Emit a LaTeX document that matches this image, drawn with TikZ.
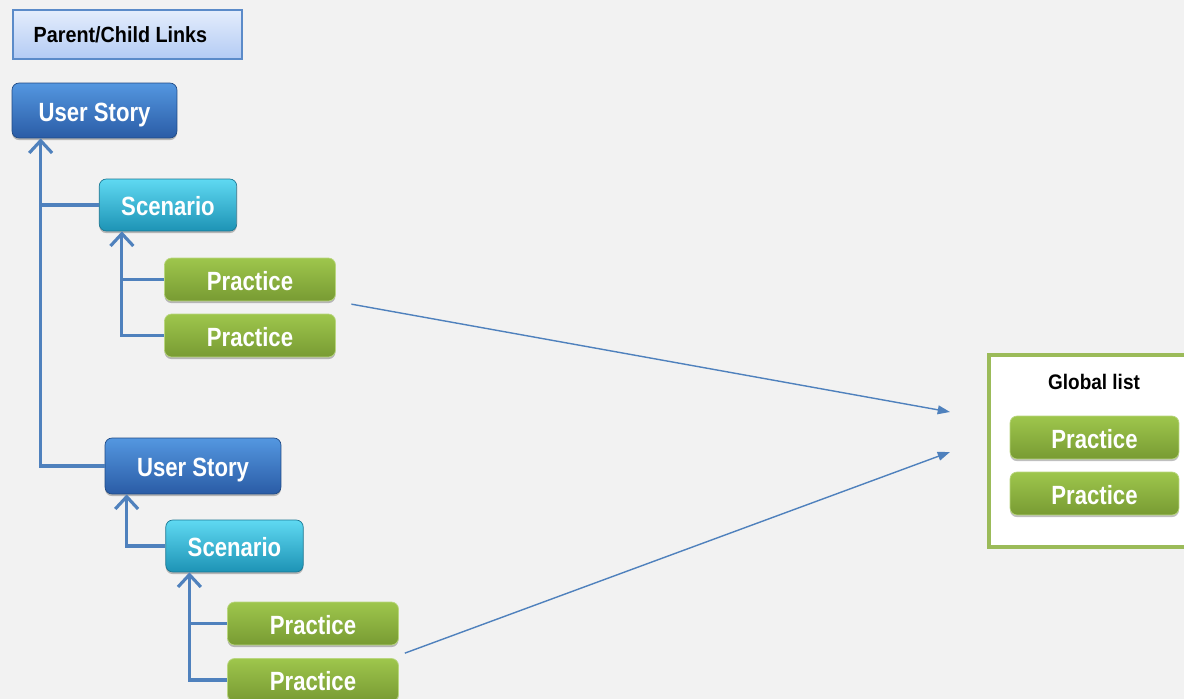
\documentclass[tikz,border=0pt]{standalone}
\usepackage{fontspec}
\setmainfont{Liberation Sans}[FakeStretch=0.84]
\newfontfamily\titlefont{Liberation Sans}[FakeStretch=0.9]
\usetikzlibrary{arrows.meta, calc, positioning, shadows}

\definecolor{bgGray}{HTML}{F2F2F2}
\definecolor{linkBlue}{HTML}{4F81BD}
\definecolor{titleTop}{HTML}{E4EDFC}
\definecolor{titleBot}{HTML}{B3CBF4}
\definecolor{titleLine}{HTML}{5B8BC9}
\definecolor{storyTop}{HTML}{5497E0}
\definecolor{storyBot}{HTML}{2A5CA6}
\definecolor{storyLine}{HTML}{1F4A85}
\definecolor{sceneTop}{HTML}{5FD9F2}
\definecolor{sceneBot}{HTML}{1D93B5}
\definecolor{sceneLine}{HTML}{1A7894}
\definecolor{pracTop}{HTML}{9EC64C}
\definecolor{pracBot}{HTML}{789B33}
\definecolor{pracLine}{HTML}{B9D67F}
\definecolor{listLine}{HTML}{9BBB59}

\begin{document}
\begin{tikzpicture}[x=0.02cm, y=-0.02cm,
  box/.style={rounded corners=4pt, text=white, inner sep=0pt,
    font=\bfseries\fontsize{15}{17}\selectfont, text height=12.5pt, text depth=0pt,
    general shadow={fill=black, opacity=0.25, shadow yshift=-1.2pt}},
  story/.style={box, top color=storyTop, bottom color=storyBot, draw=storyLine,
    minimum width=3.3cm, minimum height=1.1cm},
  scene/.style={box, top color=sceneTop, bottom color=sceneBot, draw=sceneLine,
    minimum width=2.75cm, minimum height=1.04cm},
  practice/.style={box, top color=pracTop, bottom color=pracBot, draw=pracLine,
    minimum width=3.42cm, minimum height=0.86cm},
  link/.style={draw=linkBlue, line width=1.8pt, -{Straight Barb[length=7pt,width=13pt]}},
  jump/.style={draw=linkBlue, line width=0.8pt, -{Triangle[length=7pt,width=5pt]}}]

\fill[bgGray] (0,0) rectangle (1184,699);
\useasboundingbox (0,0) rectangle (1184,699);

% legend
\node[draw=titleLine, line width=1pt, top color=titleTop, bottom color=titleBot,
  minimum width=4.58cm, minimum height=0.98cm, font=\titlefont\bfseries\fontsize{12.5}{14}\selectfont]
  (legend) at (127.5,34.5) {\hspace*{-8pt}Parent/Child Links};

% first tree
\node[story] (us1) at (94.5,110.5) {User Story};
\node[scene] (sc1) at (168,205) {Scenario};
\node[practice] (p1) at (250,279.5) {Practice};
\node[practice] (p2) at (250,335.5) {Practice};

% second tree
\node[story, minimum width=3.52cm, minimum height=1.12cm] (us2) at (193,466) {User Story};
\node[scene] (sc2) at (234.5,546) {Scenario};
\node[practice] (p3) at (313,623.5) {Practice};
\node[practice] (p4) at (313,680) {Practice};

% global list
\node[draw=listLine, line width=2.3pt, fill=white, minimum width=4.02cm, minimum height=3.84cm]
  (glist) at (1089.5,451) {};
\node[font=\titlefont\bfseries\fontsize{12}{14}\selectfont] (gtitle) at (1094,382) {Global list};
\node[practice, minimum width=3.38cm] (g1) at (1094.5,437.5) {Practice};
\node[practice, minimum width=3.38cm] (g2) at (1094.5,493.5) {Practice};

% parent/child links
\coordinate (us1in) at ($(us1.south west)+(29,0)$);
\coordinate (sc1in) at ($(sc1.south west)+(23,0)$);
\coordinate (us2in) at ($(us2.south west)+(22,0)$);
\coordinate (sc2in) at ($(sc2.south west)+(24,0)$);

\draw[link] (us2.west) -| (us1in);
\draw[draw=linkBlue, line width=1.8pt] (sc1.west) -- (sc1.west -| us1in);
\draw[link] (p2.west) -| (sc1in);
\draw[draw=linkBlue, line width=1.8pt] (p1.west) -- (p1.west -| sc1in);
\draw[link] (sc2.west) -| (us2in);
\draw[link] (p4.west) -| (sc2in);
\draw[draw=linkBlue, line width=1.8pt] (p3.west) -- (p3.west -| sc2in);

% links to the global list
\coordinate (gin1) at ($(glist.north west)+(-37,59)$);
\coordinate (gin2) at ($(glist.west)+(-37,1)$);
\draw[jump, shorten <=9pt] (p1.south east) -- (gin1);
\draw[jump] ($(p4.north east)+(6,-5)$) -- (gin2);
\end{tikzpicture}
\end{document}
